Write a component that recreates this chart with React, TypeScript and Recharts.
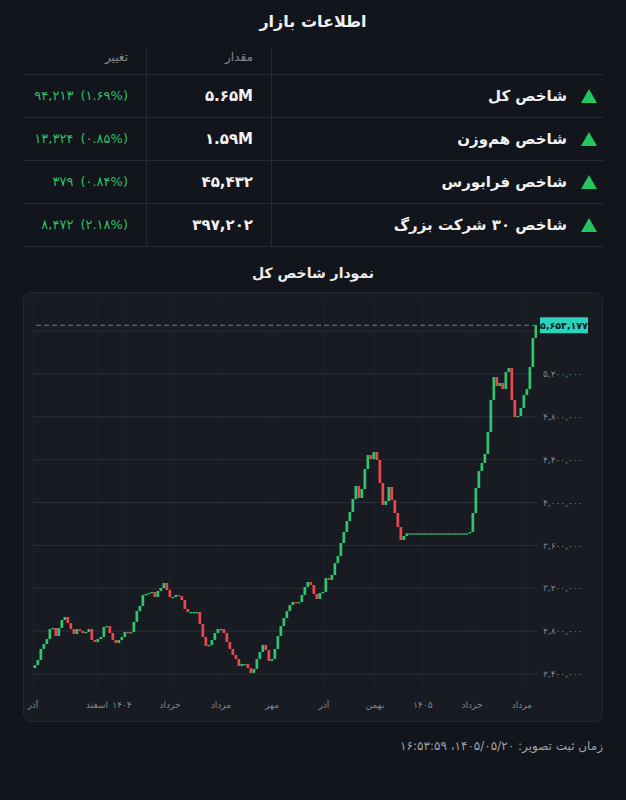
import React from 'react'
import {
  ComposedChart,
  Bar,
  XAxis,
  YAxis,
  CartesianGrid,
  ReferenceLine
} from 'recharts'

// market summary table
const indexNames = ['شاخص کل', 'شاخص هم‌وزن', 'شاخص فرابورس', 'شاخص ۳۰ شرکت بزرگ']
const indexValues = ['۵.۶۵M', '۱.۵۹M', '۴۵,۴۳۲', '۳۹۷,۲۰۲']
const changeAmounts = ['۹۴,۲۱۳', '۱۳,۳۲۴', '۳۷۹', '۸,۴۷۲']
const changePercents = ['۱.۶۹', '۰.۸۵', '۰.۸۴', '۲.۱۸']

// total index, one candle per step (open = previous close)
const firstOpen = 2455000
const closes = [
  2483000, 2530000, 2633000, 2679000, 2726000, 2819000, 2829000, 2754000, 2829000, 2903000,
  2931000, 2875000, 2819000, 2773000, 2819000, 2801000, 2782000, 2791000, 2819000, 2717000,
  2698000, 2726000, 2745000, 2838000, 2847000, 2782000, 2717000, 2689000, 2717000, 2745000,
  2791000, 2782000, 2791000, 2885000, 2987000, 3034000, 3137000, 3146000, 3155000, 3165000,
  3118000, 3174000, 3202000, 3249000, 3183000, 3118000, 3118000, 3137000, 3127000, 3090000,
  3006000, 2978000, 2978000, 2978000, 2978000, 2866000, 2745000, 2661000, 2670000, 2717000,
  2782000, 2819000, 2819000, 2782000, 2698000, 2633000, 2577000, 2539000, 2474000, 2493000,
  2493000, 2455000, 2409000, 2446000, 2539000, 2605000, 2670000, 2623000, 2521000, 2539000,
  2633000, 2754000, 2847000, 2922000, 2987000, 3043000, 3071000, 3062000, 3071000, 3137000,
  3211000, 3258000, 3230000, 3146000, 3099000, 3155000, 3165000, 3295000, 3277000, 3323000,
  3435000, 3501000, 3622000, 3725000, 3827000, 3911000, 4033000, 4154000, 4042000, 4126000,
  4313000, 4443000, 4406000, 4471000, 4397000, 4182000, 3977000, 4014000, 4145000, 4023000,
  3902000, 3771000, 3650000, 3687000, 3712000, 3712000, 3712000, 3712000, 3712000, 3712000,
  3712000, 3712000, 3712000, 3712000, 3712000, 3712000, 3712000, 3712000, 3712000, 3712000,
  3712000, 3712000, 3712000, 3712000, 3712000, 3725000, 3902000, 4135000, 4294000, 4369000,
  4453000, 4658000, 4957000, 5171000, 5087000, 5115000, 5059000, 5218000, 5255000, 4957000,
  4798000, 4807000, 4882000, 5003000, 5059000, 5265000, 5535000, 5654177
]

// month ticks (in candle index units)
const monthTicks = [-0.7, 20.7, 29, 45, 62, 79, 96.3, 113.3, 129.3, 145.7, 162.3]
const monthLabels = ['آذر', 'اسفند', '۱۴۰۴', 'خرداد', 'مرداد', 'مهر', 'آذر', 'بهمن', '۱۴۰۵', 'خرداد', 'مرداد']
const priceTicks = [2400000, 2800000, 3200000, 3600000, 4000000, 4400000, 4800000, 5200000, 5600000]

const UP = '#2fc56e'
const DOWN = '#e9484d'
const FONT = '"DejaVu Sans", sans-serif'
const lastClose = closes[closes.length - 1]

const fa = (s: string) => s.replace(/\d/g, (d) => '۰۱۲۳۴۵۶۷۸۹'[Number(d)])
const faNum = (v: number) => fa(Math.round(v).toLocaleString('en-US'))

const candles = closes.map((close, i) => {
  const open = i === 0 ? firstOpen : closes[i - 1]
  return { i, open, close, body: [open, close] }
})

function Candle(props: any) {
  const { x, y, width, height, payload } = props
  if (x == null || y == null || !payload) return null
  const top = Math.min(y, y + (height || 0))
  const h = Math.max(Math.abs(height || 0), 1.3)
  return (
    <rect
      x={x}
      y={top}
      width={width}
      height={h}
      fill={payload.close >= payload.open ? UP : DOWN}
    />
  )
}

function PriceTag(props: any) {
  const vb = props.viewBox
  if (!vb) return null
  const x = vb.x + vb.width + 3
  return (
    <g>
      <rect x={x} y={vb.y - 8} width={48} height={16} fill="#2ad3bb" />
      <text
        x={x + 24}
        y={vb.y + 3.5}
        textAnchor="middle"
        fontSize={9.5}
        fontWeight={700}
        fill="#0f1b1d"
        fontFamily={FONT}
      >
        {faNum(lastClose)}
      </text>
    </g>
  )
}

function Triangle({ x, y }: { x: number; y: number }) {
  return (
    <svg
      width={16}
      height={14}
      style={{ position: 'absolute', left: x, top: y - 7 }}
    >
      <polygon points="8,0 16,14 0,14" fill="#22c55e" />
    </svg>
  )
}

const abs = (extra: React.CSSProperties): React.CSSProperties => ({
  position: 'absolute',
  whiteSpace: 'nowrap',
  ...extra
})

export default function App() {
  const rowY = [95.5, 138.5, 181.5, 224.5]
  const lines = [74, 117, 160, 203, 246]

  return (
    <div
      style={{
        position: 'absolute',
        left: 0,
        top: 0,
        width: 626,
        height: 800,
        background: '#12151b',
        fontFamily: FONT,
        overflow: 'hidden'
      }}
    >
      <div
        style={abs({
          left: 0,
          top: 10,
          width: 626,
          textAlign: 'center',
          fontSize: 16,
          fontWeight: 700,
          lineHeight: '24px',
          color: '#f0f0f0',
          direction: 'rtl'
        })}
      >
        اطلاعات بازار
      </div>

      {/* table grid */}
      {lines.map((ly) => (
        <div key={ly} style={abs({ left: 24, top: ly, width: 580, height: 1, background: '#272a32' })} />
      ))}
      <div style={abs({ left: 146, top: 47, width: 1, height: 199, background: '#272a32' })} />
      <div style={abs({ left: 271, top: 47, width: 1, height: 199, background: '#272a32' })} />

      <div style={abs({ right: 626 - 128, top: 49, fontSize: 12, lineHeight: '16px', color: '#868a93', direction: 'rtl' })}>
        تغییر
      </div>
      <div style={abs({ right: 626 - 253, top: 49, fontSize: 12, lineHeight: '16px', color: '#868a93', direction: 'rtl' })}>
        مقدار
      </div>

      {indexNames.map((name, k) => (
        <React.Fragment key={name}>
          <Triangle x={581} y={rowY[k]} />
          <div
            style={abs({
              right: 626 - 567,
              top: rowY[k] - 12,
              lineHeight: '24px',
              fontSize: 15,
              fontWeight: 600,
              color: '#f2f2f2',
              direction: 'rtl'
            })}
          >
            {name}
          </div>
          <div
            style={abs({
              right: 626 - 253,
              top: rowY[k] - 12,
              lineHeight: '24px',
              fontSize: 15,
              fontWeight: 700,
              color: '#f2f2f2',
              direction: 'ltr'
            })}
          >
            {indexValues[k]}
          </div>
          <div
            style={abs({
              right: 626 - 128,
              top: rowY[k] - 12,
              lineHeight: '24px',
              fontSize: 13,
              color: '#2fbf68',
              direction: 'ltr',
              display: 'flex',
              gap: 7
            })}
          >
            <span>{changeAmounts[k]}</span>
            <span>({changePercents[k]}%)</span>
          </div>
        </React.Fragment>
      ))}

      <div
        style={abs({
          left: 0,
          top: 263,
          width: 626,
          textAlign: 'center',
          fontSize: 14,
          fontWeight: 700,
          lineHeight: '20px',
          color: '#ececec',
          direction: 'rtl'
        })}
      >
        نمودار شاخص کل
      </div>

      <div
        style={abs({
          left: 23,
          top: 292,
          width: 580,
          height: 430,
          boxSizing: 'border-box',
          border: '1px solid #23262e',
          borderRadius: 8,
          background: '#181b22'
        })}
      />

      <div style={abs({ left: 23, top: 292 })}>
        <ComposedChart
          width={580}
          height={430}
          data={candles}
          margin={{ top: 8, right: 10, bottom: 10, left: 10 }}
        >
          <CartesianGrid horizontal={false} syncWithTicks stroke="#1f232b" />
          <CartesianGrid vertical={false} syncWithTicks stroke="#2a2e37" />
          <XAxis
            dataKey="i"
            type="number"
            domain={[-0.667, 167.333]}
            allowDataOverflow
            ticks={monthTicks}
            interval={0}
            tickFormatter={(v: number) => monthLabels[monthTicks.indexOf(v)] ?? ''}
            axisLine={false}
            tickLine={false}
            tickSize={0}
            tickMargin={12}
            height={22}
            tick={{ fill: '#80858f', fontSize: 9, fontFamily: FONT }}
          />
          <YAxis
            orientation="right"
            domain={[2250000, 5890000]}
            allowDataOverflow
            ticks={priceTicks}
            interval={0}
            tickFormatter={(v: number) => (Math.abs(v - lastClose) < 120000 ? '' : faNum(v))}
            axisLine={false}
            tickLine={false}
            tickSize={0}
            tickMargin={6}
            width={56}
            tick={{ fill: '#80858f', fontSize: 9, fontFamily: FONT, textAnchor: 'start' }}
          />
          <ReferenceLine
            y={lastClose}
            stroke="#3a9990"
            strokeDasharray="5 3"
            label={<PriceTag />}
          />
          <Bar dataKey="body" barSize={3} shape={<Candle />} isAnimationActive={false} />
        </ComposedChart>
      </div>

      <div
        style={abs({
          right: 626 - 603,
          top: 737,
          fontSize: 12,
          lineHeight: '18px',
          color: '#9ea2aa',
          direction: 'rtl'
        })}
      >
        زمان ثبت تصویر: ۱۴۰۵/۰۵/۲۰، ۱۶:۵۳:۵۹
      </div>
    </div>
  )
}
